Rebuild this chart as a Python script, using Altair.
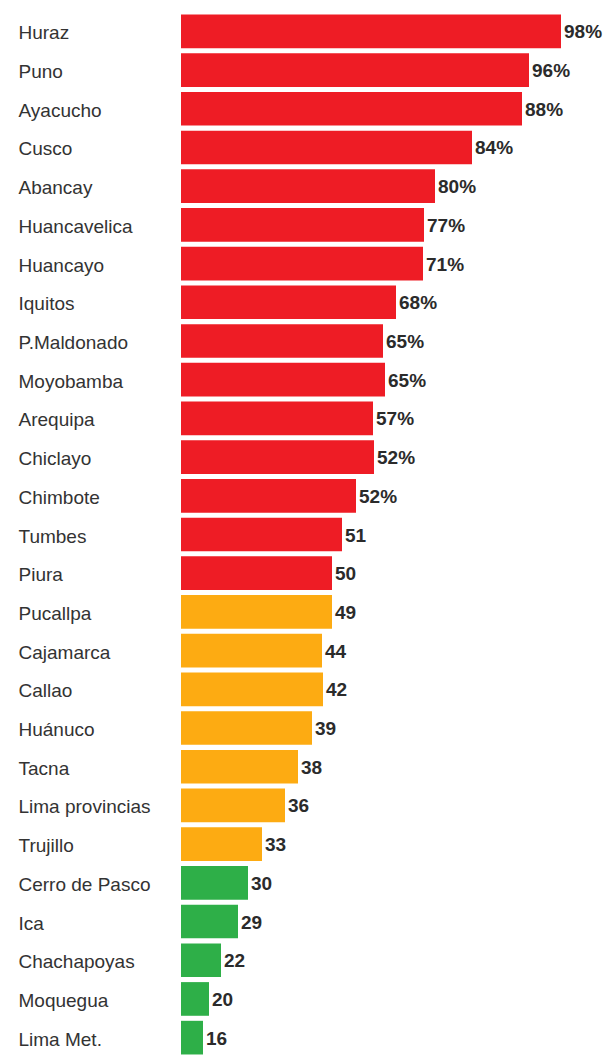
import altair as alt
import pandas as pd

cities = ["Huraz", "Puno", "Ayacucho", "Cusco", "Abancay", "Huancavelica", "Huancayo",
          "Iquitos", "P.Maldonado", "Moyobamba", "Arequipa", "Chiclayo", "Chimbote",
          "Tumbes", "Piura", "Pucallpa", "Cajamarca", "Callao", "Huánuco", "Tacna",
          "Lima provincias", "Trujillo", "Cerro de Pasco", "Ica", "Chachapoyas",
          "Moquegua", "Lima Met."]
# bar lengths as drawn in the picture (arbitrary units)
bar_len = [380, 348, 341, 291, 254, 243, 242, 215, 202, 204, 192, 193, 175,
           161, 151, 151, 141, 142, 131, 117, 104, 81, 67, 57, 40, 28, 22]
value_labels = ["98%", "96%", "88%", "84%", "80%", "77%", "71%", "68%", "65%", "65%",
                "57%", "52%", "52%", "51", "50", "49", "44", "42", "39", "38", "36",
                "33", "30", "29", "22", "20", "16"]
group = ["alto"] * 15 + ["medio"] * 7 + ["bajo"] * 5
group_domain = ["alto", "medio", "bajo"]
group_colors = ["#EE1C25", "#FDAB12", "#2EAF48"]

df = pd.DataFrame({"city": cities, "len": bar_len, "label": value_labels, "group": group})

y_enc = alt.Y("city:N", sort=cities, title=None,
              scale=alt.Scale(paddingInner=0.13, paddingOuter=0.065),
              axis=alt.Axis(ticks=False, tickSize=0, domain=False, labelAlign="left",
                            labelPadding=163, labelLimit=300, labelFontSize=19,
                            labelOffset=2,
                            labelFont="Liberation Sans", labelColor="#333333"))
x_enc = alt.X("len:Q", scale=alt.Scale(domain=[0, 422]), axis=None)

bars = alt.Chart(df).mark_bar(cornerRadius=0).encode(
    x=x_enc, y=y_enc,
    color=alt.Color("group:N", scale=alt.Scale(domain=group_domain, range=group_colors), legend=None),
)
texts = alt.Chart(df).mark_text(align="left", baseline="middle", dx=3, dy=1, fontSize=19,
                                fontWeight="bold", font="Liberation Sans", color="#2b2b2b").encode(
    x=x_enc, y=alt.Y("city:N", sort=cities), text="label:N")

chart = (bars + texts).properties(
    width=422, height=1045,
    autosize=alt.AutoSizeParams(type="none"),
    padding={"left": 181, "top": 12, "right": 0, "bottom": 0},
    background="white",
).configure_view(stroke=None).configure_axis(grid=False)

chart.save("out.html", embed_options={"renderer": "svg", "actions": False})
